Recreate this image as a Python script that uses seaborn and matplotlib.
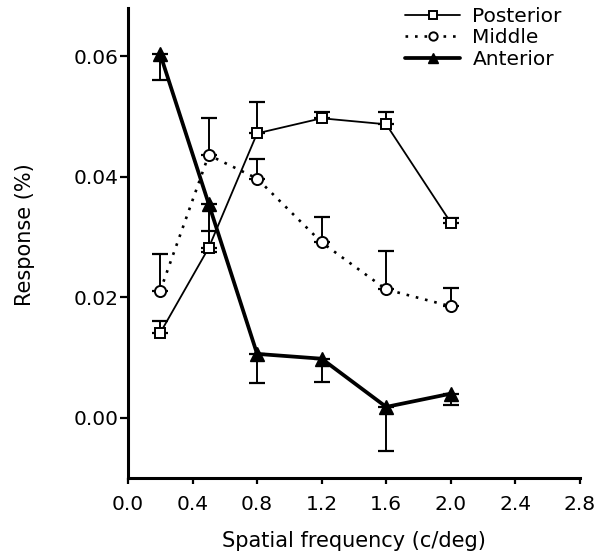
import matplotlib
matplotlib.use("Agg")
import matplotlib.pyplot as plt
import seaborn as sns
import pandas as pd
import numpy as np

# Data
freq = [0.2, 0.5, 0.8, 1.2, 1.6, 2.0]
posterior = [0.0141, 0.0282, 0.0472, 0.0497, 0.0487, 0.0324]
posterior_err_up = [0.0019, 0.0028, 0.0052, 0.0010, 0.0020, 0.0007]
middle = [0.0211, 0.0436, 0.0397, 0.0291, 0.0213, 0.0185]
middle_err_up = [0.0060, 0.0061, 0.0032, 0.0043, 0.0063, 0.0031]
anterior = [0.0603, 0.0355, 0.0106, 0.0098, 0.0018, 0.0040]
anterior_err_down = [0.0043, 0.0080, 0.0049, 0.0038, 0.0073, 0.0018]

series_names = ["Posterior", "Middle", "Anterior"]
x_ticks = [0.0, 0.4, 0.8, 1.2, 1.6, 2.0, 2.4, 2.8]
y_ticks = [0.00, 0.02, 0.04, 0.06]

sns.set_style("ticks")
plt.rcParams['font.family'] = ['DejaVu Sans']
plt.rcParams['text.color'] = 'black'
plt.rcParams['axes.labelcolor'] = 'black'

df = pd.DataFrame({
    "freq": freq * 3,
    "value": posterior + middle + anterior,
    "region": [series_names[0]] * 6 + [series_names[1]] * 6 + [series_names[2]] * 6,
})

fig = plt.figure(figsize=(6.11, 5.52), dpi=100)
ax = fig.add_axes([0.2095, 0.134, 0.7395, 0.8515])

styles = {
    "Posterior": dict(ls="-", lw=1.3, marker="s", ms=7, mfc="white", mec="black", mew=1.4),
    "Middle": dict(ls=(0, (1, 2.6)), lw=1.9, marker="o", ms=8, mfc="white", mec="black", mew=1.4),
    "Anterior": dict(ls="-", lw=2.7, marker="^", ms=9.5, mfc="black", mec="black", mew=1.0),
}

# error bars (one-sided)
ax.errorbar(freq, posterior, yerr=[np.zeros(6), posterior_err_up], fmt="none",
            ecolor="black", elinewidth=1.4, capsize=6, capthick=1.6, zorder=1)
ax.errorbar(freq, middle, yerr=[np.zeros(6), middle_err_up], fmt="none",
            ecolor="black", elinewidth=1.4, capsize=6, capthick=1.6, zorder=1)
ax.errorbar(freq, anterior, yerr=[anterior_err_down, np.zeros(6)], fmt="none",
            ecolor="black", elinewidth=1.4, capsize=6, capthick=1.6, zorder=1)

for name in series_names:
    st = styles[name]
    sub = df[df["region"] == name]
    sns.lineplot(data=sub, x="freq", y="value", ax=ax, color="black",
                 linestyle=st["ls"], linewidth=st["lw"], marker=st["marker"],
                 markersize=st["ms"], markerfacecolor=st["mfc"],
                 markeredgecolor=st["mec"], markeredgewidth=st["mew"],
                 label=name, zorder=3)

ax.set_xlim(0, 2.8)
ax.set_ylim(-0.01, 0.068)
ax.set_xticks(x_ticks)
ax.set_xticklabels([f"{t:.1f}" for t in x_ticks])
ax.set_yticks(y_ticks)
ax.set_yticklabels([f"{t:.2f}" for t in y_ticks])
ax.tick_params(axis="x", direction="out", length=4, width=1.6, labelsize=14.5,
               color="black", labelcolor="black", pad=8)
ax.tick_params(axis="y", direction="out", length=6, width=1.6, labelsize=14.5,
               color="black", labelcolor="black", pad=1)
for sp in ["top", "right"]:
    ax.spines[sp].set_visible(False)
for sp in ["left", "bottom"]:
    ax.spines[sp].set_linewidth(2.2)
    ax.spines[sp].set_color("black")

ax.set_xlabel("Spatial frequency (c/deg)", fontsize=15, color="black", va="top")
ax.xaxis.set_label_coords(0.5, -0.112)
ax.set_ylabel("Response (%)", fontsize=15, color="black")
ax.yaxis.set_label_coords(-0.206, 0.517)

leg = ax.legend(loc="upper left", bbox_to_anchor=(0.613, 1.002), frameon=False,
                fontsize=14.5, handlelength=2.75, handletextpad=0.6, labelspacing=0.12,
                borderaxespad=0, borderpad=0, markerscale=0.75, labelcolor="black")

fig.savefig("out.png", dpi=100)
